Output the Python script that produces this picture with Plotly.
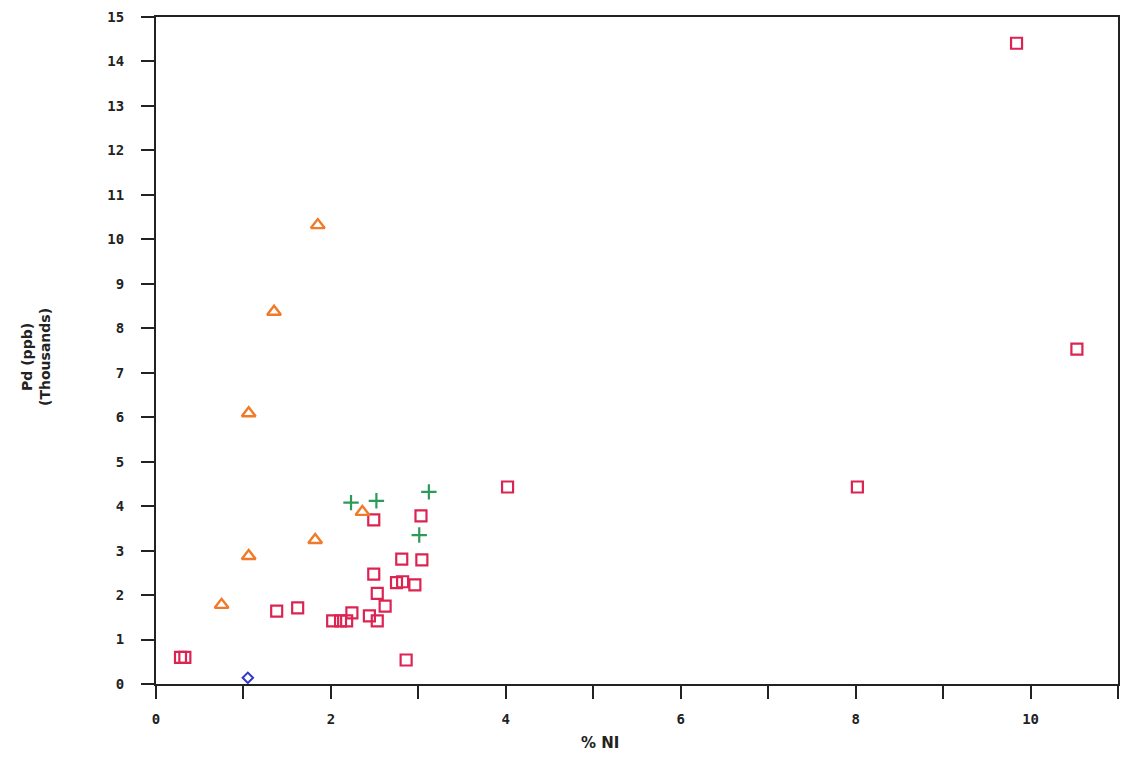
import plotly.graph_objects as go

# % Ni vs Pd (ppb, thousands) by sample group
sq_ni = [0.28, 0.33, 1.38, 1.62, 2.02, 2.11, 2.18, 2.24, 2.44, 2.53, 2.53, 2.49, 2.62,
         2.49, 2.75, 2.82, 2.96, 2.81, 3.04, 3.03, 2.86, 4.02, 8.02, 9.84, 10.53]
sq_pd = [0.60, 0.60, 1.64, 1.71, 1.42, 1.42, 1.42, 1.60, 1.53, 1.42, 2.04, 2.47, 1.75,
         3.69, 2.28, 2.30, 2.23, 2.81, 2.79, 3.78, 0.54, 4.43, 4.43, 14.41, 7.53]

tri_ni = [1.85, 1.35, 1.06, 1.06, 0.75, 1.82, 2.36]
tri_pd = [10.32, 8.37, 6.09, 2.88, 1.78, 3.24, 3.87]

plus_ni = [2.23, 2.52, 3.12, 3.01]
plus_pd = [4.08, 4.12, 4.32, 3.35]

dia_ni = [1.05]
dia_pd = [0.14]

fig = go.Figure()
fig.add_trace(go.Scatter(x=sq_ni, y=sq_pd, mode="markers",
                         marker=dict(symbol="square-open", size=11, color="#dc2452",
                                     line=dict(width=2.2))))
fig.add_trace(go.Scatter(x=tri_ni, y=tri_pd, mode="markers",
                         marker=dict(symbol="triangle-up-open", size=12, color="#f07a28",
                                     line=dict(width=2.4))))
fig.add_trace(go.Scatter(x=plus_ni, y=plus_pd, mode="markers",
                         marker=dict(symbol="cross-thin-open", size=11, color="#2e9a5a",
                                     line=dict(width=2.2))))
fig.add_trace(go.Scatter(x=dia_ni, y=dia_pd, mode="markers",
                         marker=dict(symbol="diamond-open", size=8, color="#3038c8",
                                     line=dict(width=2))))

tick_font = dict(family="DejaVu Sans Mono", size=14, color="#222222", weight="bold")

fig.update_layout(
    width=1123, height=761,
    margin=dict(l=156, r=3, t=17, b=77),
    paper_bgcolor="white", plot_bgcolor="white",
    showlegend=False,
    xaxis=dict(range=[0, 11], tick0=0, dtick=2, showgrid=False, zeroline=False,
               showline=True, linecolor="#222222", linewidth=2, mirror=True,
               ticks="outside", ticklen=13, tickwidth=2, tickcolor="#222222",
               minor=dict(dtick=1, tick0=0, ticks="outside", ticklen=13, tickwidth=2,
                          tickcolor="#222222", showgrid=False),
               tickfont=tick_font, ticklabelstandoff=8),
    yaxis=dict(range=[0, 15], tick0=0, dtick=1, showgrid=False, zeroline=False,
               showline=True, linecolor="#222222", linewidth=2, mirror=True,
               ticks="outside", ticklen=13, tickwidth=2, tickcolor="#222222",
               tickfont=tick_font, ticklabelstandoff=14),
    annotations=[
        dict(text="Pd (ppb)<br>(Thousands)", textangle=-90,
             xref="paper", yref="paper", x=-0.125, y=0.49,
             xanchor="center", yanchor="middle", showarrow=False,
             font=dict(family="DejaVu Sans", size=14, color="#222222", weight="bold")),
        dict(text="% NI", xref="paper", yref="paper", x=-0.038 + 0.5 - 0.0, y=-0.088,
             xanchor="center", yanchor="middle", showarrow=False,
             font=dict(family="DejaVu Sans", size=15, color="#222222", weight="bold")),
    ],
)

fig.write_html("out.html")
